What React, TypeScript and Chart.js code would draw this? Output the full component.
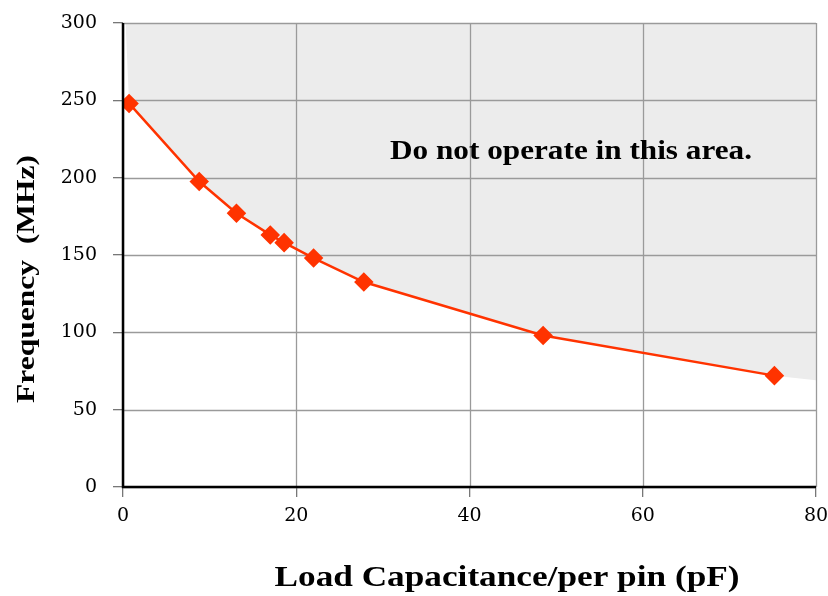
import React, { useEffect, useRef } from "react";
import { Chart, registerables } from "chart.js";
Chart.register(...registerables);

const capacitance = [0.7, 8.8, 13.1, 17.0, 18.6, 22.0, 27.8, 48.5, 75.2];
const frequency = [248, 197.5, 177, 163, 158, 148, 132.5, 98, 72];
const shadeEdgeX = [0.3, 80];
const shadeEdgeY = [300, 69];
const xTicks = [0, 20, 40, 60, 80];
const yTicks = [0, 50, 100, 150, 200, 250, 300];
const xTitle = "Load Capacitance/per pin (pF)";
const yTitle = "Frequency  (MHz)";
const note = "Do not operate in this area.";

const gridPlugin = {
  id: "gridOver",
  beforeDatasetsDraw(chart: any) {
    const { ctx, chartArea, scales } = chart;
    ctx.save();
    ctx.strokeStyle = "#9a9a9a";
    ctx.lineWidth = 1.3;
    ctx.beginPath();
    for (const v of xTicks) {
      const px = Math.round(scales.x.getPixelForValue(v)) + 0.5;
      ctx.moveTo(px, chartArea.top);
      ctx.lineTo(px, chartArea.bottom);
    }
    for (const v of yTicks) {
      const py = Math.round(scales.y.getPixelForValue(v)) + 0.5;
      ctx.moveTo(chartArea.left, py);
      ctx.lineTo(chartArea.right, py);
    }
    ctx.stroke();
    ctx.restore();
  },
};

const textPlugin = {
  id: "texts",
  afterDraw(chart: any) {
    const { ctx, chartArea } = chart;
    ctx.save();
    ctx.fillStyle = "#000";
    ctx.textAlign = "center";
    ctx.textBaseline = "middle";
    // x title
    ctx.save();
    ctx.translate(507, 578);
    ctx.font = "bold 30px 'Liberation Serif'";
    const xw = ctx.measureText(xTitle).width;
    ctx.scale(465 / xw, 1);
    ctx.fillText(xTitle, 0, 0);
    ctx.restore();
    // y title
    ctx.save();
    ctx.translate(27, 279);
    ctx.rotate(-Math.PI / 2);
    ctx.font = "bold 26px 'Liberation Serif'";
    const w = ctx.measureText(yTitle).width;
    ctx.scale(248 / w, 1);
    ctx.fillText(yTitle, 0, 0);
    ctx.restore();
    // note
    ctx.save();
    ctx.translate(390, 152);
    ctx.font = "bold 28px 'Liberation Serif'";
    const nw = ctx.measureText(note).width;
    ctx.scale(362 / nw, 1);
    ctx.textAlign = "left";
    ctx.fillText(note, 0, 0);
    ctx.restore();
    // axes
    ctx.strokeStyle = "#000";
    ctx.lineWidth = 2.5;
    ctx.beginPath();
    ctx.moveTo(chartArea.left, chartArea.top);
    ctx.lineTo(chartArea.left, chartArea.bottom);
    ctx.lineTo(chartArea.right, chartArea.bottom);
    ctx.stroke();
    ctx.restore();
  },
};

const zeroPad = (s: any) => {
  s.paddingLeft = 0;
  s.paddingRight = 0;
  s.paddingTop = 0;
  s.paddingBottom = 0;
};

export default function App() {
  const ref = useRef<HTMLCanvasElement>(null);
  useEffect(() => {
    document.body.style.margin = "0";
    const mainData = capacitance.map((x, i) => ({ x, y: frequency[i] }));
    const shade = [
      { x: shadeEdgeX[0], y: shadeEdgeY[0] },
      ...mainData,
      { x: shadeEdgeX[1], y: shadeEdgeY[1] },
    ];
    const chart = new Chart(ref.current!, {
      type: "scatter",
      data: {
        datasets: [
          {
            data: mainData,
            showLine: true,
            borderColor: "#ff3300",
            backgroundColor: "#ff3300",
            borderWidth: 2.5,
            pointStyle: "rectRot",
            pointRadius: 8,
            pointHoverRadius: 8,
            order: 0,
          },
          {
            data: shade,
            showLine: true,
            borderWidth: 0,
            pointRadius: 0,
            fill: "end",
            backgroundColor: "#ececec",
            borderColor: "rgba(0,0,0,0)",
            order: 5,
          } as any,
        ],
      },
      options: {
        animation: false,
        responsive: false,
        events: [],
        layout: { padding: { top: 23, right: 12, left: 0, bottom: 0 } },
        plugins: {
          legend: { display: false },
          tooltip: { enabled: false },
          filler: { drawTime: "beforeDatasetsDraw" } as any,
        },
        scales: {
          x: {
            type: "linear",
            min: 0,
            max: 80,
            afterBuildTicks: (s: any) => {
              s.ticks = xTicks.map((v) => ({ value: v }));
            },
            afterFit: (s: any) => {
              s.height = 109;
              zeroPad(s);
            },
            grid: {
              color: "#777",
              lineWidth: 1.3,
              tickLength: 10,
              drawOnChartArea: false,
            },
            border: { display: false },
            ticks: {
              color: "#000",
              padding: 8,
              font: { family: "'DejaVu Serif'", size: 19 },
            },
          },
          y: {
            min: 0,
            max: 300,
            afterBuildTicks: (s: any) => {
              s.ticks = yTicks.map((v) => ({ value: v }));
            },
            afterFit: (s: any) => {
              s.width = 123;
              zeroPad(s);
            },
            grid: {
              color: "#777",
              lineWidth: 1.3,
              tickLength: 10,
              drawOnChartArea: false,
            },
            border: { display: false },
            ticks: {
              color: "#000",
              padding: 16,
              font: { family: "'DejaVu Serif'", size: 19 },
            },
          },
        },
      },
      plugins: [gridPlugin, textPlugin],
    });
    return () => chart.destroy();
  }, []);
  return (
    <div style={{ width: 828, height: 596 }}>
      <canvas ref={ref} width={828} height={596} style={{ display: "block" }} />
    </div>
  );
}
